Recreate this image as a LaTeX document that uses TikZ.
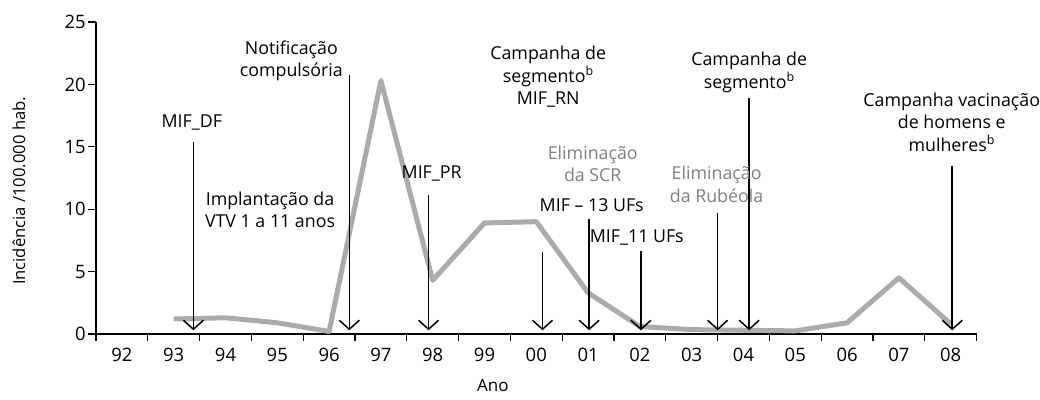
\documentclass[tikz,border=0pt]{standalone}
\usepackage{fontspec}
\setmainfont{Open Sans}
\usetikzlibrary{arrows.meta}
\definecolor{lineGray}{HTML}{ABABAB}
\definecolor{textGray}{HTML}{808080}

\begin{document}
\begin{tikzpicture}
    [x=51.8pt, y=12.48pt,
    AxisLine/.style={line width=1.3pt},
    EventArrow/.style={line width=1.6pt, -{Straight Barb[length=9pt,width=20pt,line width=1.5pt]}},
    DataLine/.style={lineGray, line width=5pt, line join=round},
    EventLabel/.style={align=center, font=\fontsize{17.8}{22.5}\selectfont, inner sep=0pt},
    ElimLabel/.style={EventLabel, text=textGray},
    TickLabel/.style={font=\fontsize{18.5}{20}\selectfont, inner sep=0pt}]
     \useasboundingbox (-96pt,-65pt) rectangle (944pt,334pt);
     % axes and ticks
     \draw[AxisLine] (0,25) -- (0,0) -- (17,0);
     \foreach \v in {0,5,...,25} {
       \draw[AxisLine] (0,\v) -- ++(-8pt,0);
       \node[TickLabel, anchor=east] at ([xshift=-10pt]0,\v) {\v};
     }
     \foreach \i in {0,...,17}
       \draw[AxisLine] (\i,0) -- ++(0,-7pt);
     \foreach \yr [count=\i from 0] in {92,93,94,95,96,97,98,99,00,01,02,03,04,05,06,07,08}
       \node[TickLabel] at ([yshift=-21pt]\i+0.5,0) {\yr};
     \node[TickLabel, font=\fontsize{16.6}{18}\selectfont, rotate=90] (YLabel) at (-1.49, 11.46){Incidência /100.000 hab.};
     \node[TickLabel, font=\fontsize{17}{18}\selectfont] (XLabel) at (7.66, -4.09){Ano};
     % incidence curve
     \draw[DataLine] plot coordinates {(1.5,1.2) (2.5,1.3) (3.5,0.9) (4.5,0.2) (5.5,20.3) (6.5,4.3) (7.5,8.9) (8.5,9.0)
       (9.5,3.3) (10.5,0.6) (11.5,0.35) (12.5,0.3) (13.5,0.25) (14.5,0.9) (15.5,4.5) (16.5,0.8)};
     % event arrows
     \coordinate (DFTop) at (1.88, 15.4);    \coordinate (DFBot) at (1.88, 0.3);
     \coordinate (NotifTop) at (4.89, 20.75); \coordinate (NotifBot) at (4.89, 0.3);
     \coordinate (PRTop) at (6.42, 11.1);    \coordinate (PRBot) at (6.42, 0.3);
     \coordinate (RNTop) at (8.62, 6.6);     \coordinate (RNBot) at (8.62, 0.3);
     \coordinate (UF13Top) at (9.52, 9.2);   \coordinate (UF13Bot) at (9.52, 0.3);
     \coordinate (UF11Top) at (10.52, 6.65); \coordinate (UF11Bot) at (10.52, 0.3);
     \coordinate (RubTop) at (12.0, 9.67);   \coordinate (RubBot) at (12.0, 0.3);
     \coordinate (SegTop) at (12.61, 18.93); \coordinate (SegBot) at (12.61, 0.3);
     \coordinate (VacTop) at (16.53, 13.5);  \coordinate (VacBot) at (16.53, 0.3);
     \draw[EventArrow] (DFTop) -- (DFBot);
     \draw[EventArrow] (NotifTop) -- (NotifBot);
     \draw[EventArrow] (PRTop) -- (PRBot);
     \draw[EventArrow] (RNTop) -- (RNBot);
     \draw[EventArrow] (UF13Top) -- (UF13Bot);
     \draw[EventArrow] (UF11Top) -- (UF11Bot);
     \draw[EventArrow] (RubTop) -- (RubBot);
     \draw[EventArrow] (SegTop) -- (SegBot);
     \draw[EventArrow] (VacTop) -- (VacBot);
     % event labels
     \node[EventLabel] (DFLabel) at (1.85, 16.93){MIF\_DF};
     \node[EventLabel, anchor=east] (NotifLabel) at (4.77, 21.9){Notificação\\compulsória};
     \node[EventLabel] (VTVLabel) at (3.36, 9.94){Implantação da\\VTV 1 a 11 anos};
     \node[EventLabel] (PRLabel) at (6.48, 12.88){MIF\_PR};
     \node[EventLabel] (RNLabel) at (8.73, 20.62){Campanha de\\segmento\textsuperscript{b}\\MIF\_RN};
     \node[ElimLabel] (SCRLabel) at (9.59, 13.62){Eliminação\\da SCR};
     \node[EventLabel] (UF13Label) at (9.57, 10.34){MIF – 13 UFs};
     \node[EventLabel] (UF11Label) at (10.44, 7.75){MIF\_11 UFs};
     \node[ElimLabel] (RubLabel) at (11.98, 12.0){Eliminação\\da Rubéola};
     \node[EventLabel] (SegLabel) at (12.61, 20.98){Campanha de\\segmento\textsuperscript{b}};
     \node[EventLabel] (VacLabel) at (16.52, 16.99){Campanha vacinação\\de homens e\\mulheres\textsuperscript{b}};
\end{tikzpicture}
\end{document}
